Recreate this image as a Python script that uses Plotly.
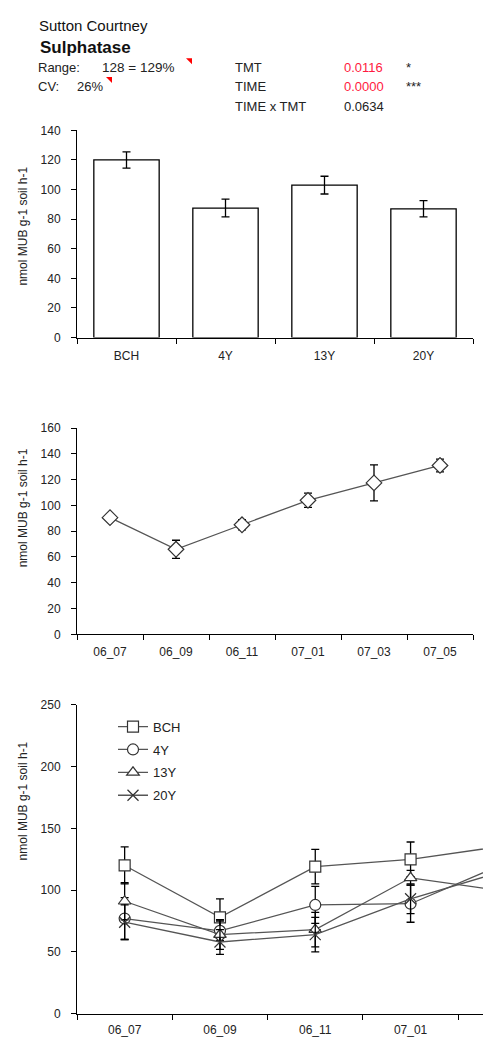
import plotly.graph_objects as go

# ---------------- data ----------------
bar_cats = ["BCH", "4Y", "13Y", "20Y"]
bar_means = [120, 87.5, 103, 87]
bar_se = [5.5, 6, 6, 5.5]

dates = ["06_07", "06_09", "06_11", "07_01", "07_03", "07_05"]
time_means = [90.5, 66, 85, 104, 117.5, 131]
time_se = [2, 7, 4, 5.5, 14, 5]

# treatment x time (07_05 lies outside the visible window)
bch_vals = [120, 78, 119, 125, 136]
bch_err = [15, 15, 14, 14, 10]
y4_vals = [77, 67, 88, 89, 122]
y4_err = [17, 8, 15, 15, 10]
y13_vals = [91, 64, 68, 110, 99]
y13_err = [15, 12, 14, 6, 10]
y20_vals = [74, 58, 64, 93, 116]
y20_err = [14, 10, 14, 12, 10]

W, H = 483, 1064


def px(x):
    return x / W


def py(y):
    return 1 - y / H


FONT = "Liberation Sans, Arial, sans-serif"
LINE_GRAY = "#555555"

fig = go.Figure()

# --- top: bar chart ---
fig.add_trace(go.Bar(
    x=bar_cats, y=bar_means,
    error_y=dict(type="data", array=bar_se, color="black", thickness=1.3, width=4),
    marker=dict(color="white", line=dict(color="black", width=1.3)),
    xaxis="x", yaxis="y", showlegend=False,
))

# --- middle: overall time course ---
fig.add_trace(go.Scatter(
    x=dates, y=time_means, mode="lines+markers",
    error_y=dict(type="data", array=time_se, color="black", thickness=1.3, width=4),
    line=dict(color=LINE_GRAY, width=1.3),
    marker=dict(symbol="diamond", size=12, color="white", line=dict(color="#333333", width=1.2)),
    xaxis="x2", yaxis="y2", showlegend=False,
))

# --- bottom: treatments over time ---
series = [
    ("BCH", bch_vals, bch_err, "square", 11),
    ("4Y", y4_vals, y4_err, "circle", 11),
    ("13Y", y13_vals, y13_err, "triangle-up", 11),
    ("20Y", y20_vals, y20_err, "x-thin", 11),
]
for name, vals, errs, sym, size in series:
    fig.add_trace(go.Scatter(
        x=dates[:len(vals)], y=vals, mode="lines+markers", name=name,
        legendgroup=name,
        error_y=dict(type="data", array=errs, color="black", thickness=1.3, width=4),
        line=dict(color=LINE_GRAY, width=1.3),
        marker=dict(symbol=sym, size=size, color="white",
                    line=dict(color="#333333", width=1.2)),
        xaxis="x3", yaxis="y3",
    ))

axis_common = dict(
    showline=True, linecolor="black", linewidth=1, showgrid=False, zeroline=False,
    ticks="outside", ticklen=5, tickcolor="black", tickwidth=1,
    tickfont=dict(family=FONT, size=12, color="#222222"),
)

fig.update_layout(
    width=W, height=H,
    margin=dict(l=0, r=0, t=0, b=0),
    paper_bgcolor="white", plot_bgcolor="white",
    font=dict(family=FONT, color="#222222"),
    xaxis=dict(axis_common, domain=[px(77), px(473)], anchor="y", type="category",
               tickson="boundaries", range=[-0.5, 3.5], ticklabelstandoff=7),
    yaxis=dict(axis_common, domain=[py(335), py(125)], anchor="x", range=[0, 140],
               dtick=20, ticklabelstandoff=8),
    xaxis2=dict(axis_common, domain=[px(77), px(473)], anchor="y2", type="category",
                tickson="boundaries", range=[-0.5, 5.5], ticklabelstandoff=6),
    yaxis2=dict(axis_common, domain=[py(635.7), py(426.7)], anchor="x2", range=[0, 160],
                dtick=20, ticklabelstandoff=8),
    xaxis3=dict(axis_common, domain=[px(77), 1.0], anchor="y3", type="category",
                tickson="boundaries", range=[-0.5, 3.76], ticklabelstandoff=5),
    yaxis3=dict(axis_common, domain=[py(1020), py(707.3)], anchor="x3", range=[0, 250],
                dtick=50, ticklabelstandoff=8),
    bargap=0.34,
    showlegend=True,
    legend=dict(x=px(113), y=py(714), xanchor="left", yanchor="top",
                bgcolor="rgba(0,0,0,0)", font=dict(family=FONT, size=13, color="#222222"),
                tracegroupgap=3, itemwidth=30),
)

annotations = []
ytitle = "nmol MUB g-1 soil h-1"
for yc in (222.5, 508, 805):
    annotations.append(dict(text=ytitle, x=px(23), y=py(yc), xref="paper", yref="paper",
                            textangle=-90, showarrow=False, xanchor="center", yanchor="middle",
                            font=dict(family=FONT, size=12, color="#222222")))


def label(text, x, y, size=13, color="#222222", bold=False):
    if bold:
        text = "<b>" + text + "</b>"
    annotations.append(dict(text=text, x=px(x), y=py(y), xref="paper", yref="paper",
                            showarrow=False, xanchor="left", yanchor="middle",
                            font=dict(family=FONT, size=size, color=color)))


label("Sutton Courtney", 37, 19, size=15, color="#111111")
label("Sulphatase", 38, 41, size=17, color="#111111", bold=True)
label("Range:", 36, 61, size=13)
label("128 = 129%", 100, 61, size=13.5)
label("CV:", 36, 81, size=13)
label("26%", 75, 81, size=13)
label("TMT", 233, 61, size=13)
label("TIME", 233, 81, size=13)
label("TIME x TMT", 233, 101, size=13)
label("0.0116", 342, 61, size=13, color="#ff1a40")
label("0.0000", 342, 81, size=13, color="#ff1a40")
label("0.0634", 342, 101, size=13)
label("*", 404, 61, size=13)
label("***", 404, 81, size=13)

fig.update_layout(annotations=annotations)


def tri(x1, y1, x2, y2):
    return dict(type="path", xref="paper", yref="paper",
                path=f"M {px(x1)},{py(y1)} L {px(x2)},{py(y1)} L {px(x2)},{py(y2)} Z",
                fillcolor="red", line=dict(width=0))


fig.update_layout(shapes=[tri(186, 52, 192, 58), tri(106, 71, 112, 77)])

fig.write_html(
    "out.html",
    config={"displayModeBar": False},
    post_script="document.body.style.margin='0';document.body.style.overflow='hidden';",
)
